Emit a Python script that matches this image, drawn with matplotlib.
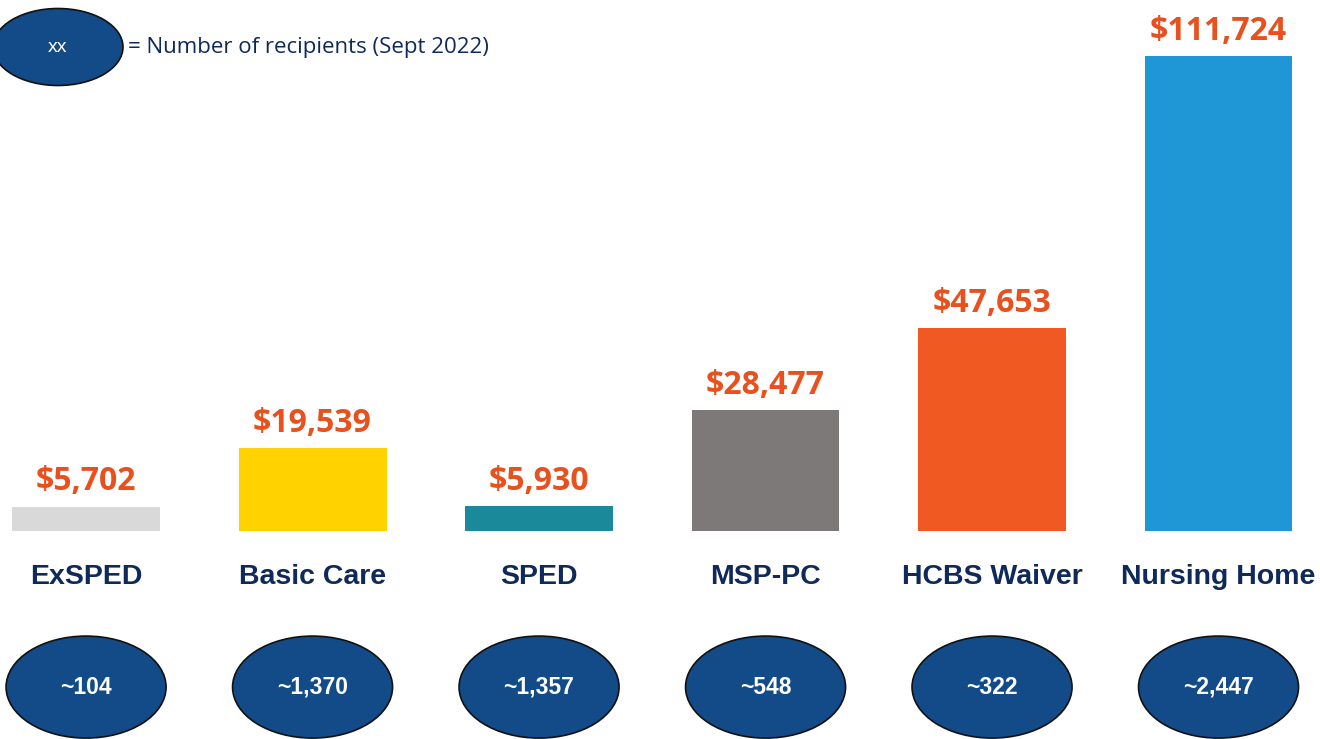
import matplotlib.pyplot as plt
from matplotlib.patches import Ellipse

programs = ['ExSPED', 'Basic Care', 'SPED', 'MSP-PC', 'HCBS Waiver', 'Nursing Home']
cost = [5702, 19539, 5930, 28477, 47653, 111724]
recipients = ['~104', '~1,370', '~1,357', '~548', '~322', '~2,447']
bar_colors = ['#D9D9D9', '#FFD200', '#1A8A9A', '#7E7979', '#F05A22', '#1F96D6']

label_orange = '#E8501E'
navy = '#0F2A5A'
oval_blue = '#124B88'

fig = plt.figure(figsize=(13.2, 7.39), dpi=100)
ax = fig.add_axes([0, 0, 1, 1])
ax.set_xlim(-0.38, 5.448)
ax.set_ylim(-48900, 124900)
ax.axis('off')

# px -> data helpers (scale of the axes)
px_x = 5.828 / 1320
px_y = 173800 / 739

x = range(len(programs))
ax.bar(x, cost, width=0.653, color=bar_colors)

for i, v in enumerate(cost):
    ax.annotate(f'${v:,}', (i, v), xytext=(0, 6), textcoords='offset points',
                ha='center', va='bottom', fontsize=23, fontweight='bold',
                color=label_orange, family='Open Sans')
    ax.text(i, -46 * px_y, programs[i], ha='center', va='center', fontsize=20.5,
            fontweight='bold', color=navy, family='Liberation Sans')
    ax.add_patch(Ellipse((i, -156 * px_y), 160 * px_x, 102 * px_y,
                         facecolor=oval_blue, edgecolor='#111111', lw=1.2))
    ax.text(i, -156 * px_y, recipients[i], ha='center', va='center', fontsize=16.5,
            fontweight='bold', color='white', family='Liberation Sans')

# legend oval at top left
lx = -0.38 + 58 * px_x
ly = 124900 - 47 * px_y
ax.add_patch(Ellipse((lx, ly), 130 * px_x, 77 * px_y,
                     facecolor=oval_blue, edgecolor='#111111', lw=1.2, clip_on=False))
ax.text(lx, ly, 'xx', ha='center', va='center', fontsize=14, color='white',
        family='Liberation Sans')
ax.text(-0.38 + 128 * px_x, ly, '= Number of recipients (Sept 2022)', ha='left',
        va='center', fontsize=16, color=navy, family='Open Sans')

fig.savefig('out.png', dpi=100)
